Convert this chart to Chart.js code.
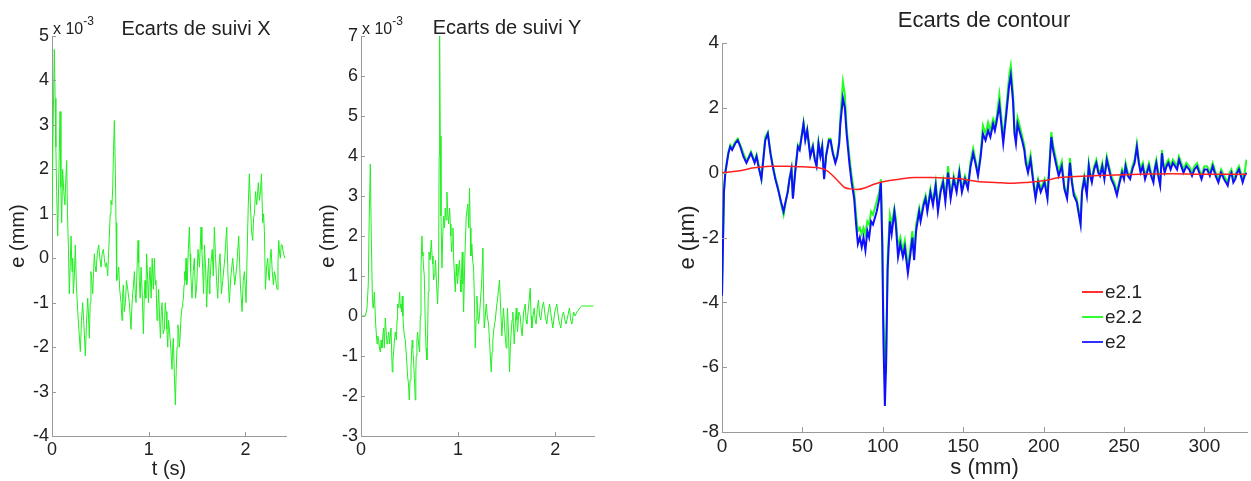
<!DOCTYPE html>
<html>
<head>
<meta charset="utf-8">
<script src="https://cdn.jsdelivr.net/npm/chart.js@4"></script>
<style>
  body { margin: 0; background: #fff; }
  #fig { position: relative; width: 1251px; height: 481px; overflow: hidden; font-family: "Liberation Sans", Arial, sans-serif; color: #222; }
  canvas { position: absolute; top: 0; }
  .lbl { position: absolute; transform: translate(-50%, -50%); white-space: nowrap; }
  .exp { position: absolute; font-size: 16px; white-space: nowrap; }
  .exp sup { font-size: 12px; position: relative; top: -3px; }
  .leg { position: absolute; left: 1082px; font-size: 19px; }
  .leg div { height: 25px; display: flex; align-items: center; }
  .leg span.ln { display: inline-block; width: 21px; height: 0; border-top: 2px solid; margin-right: 2px; }
</style>
</head>
<body>
<div id="fig">
  <canvas id="cX" width="310" height="481" style="left:0px"></canvas>
  <canvas id="cY" width="300" height="481" style="left:310px"></canvas>
  <canvas id="cC" width="591" height="481" style="left:660px"></canvas>

  <div class="lbl" style="left:196px; top:28px; font-size:20px">Ecarts de suivi X</div>
  <div class="lbl" style="left:507px; top:27px; font-size:20px">Ecarts de suivi Y</div>
  <div class="lbl" style="left:984px; top:20px; font-size:22px">Ecarts de contour</div>
  <div class="exp" style="left:53px; top:17px">x 10<sup>-3</sup></div>
  <div class="exp" style="left:362px; top:17px">x 10<sup>-3</sup></div>

  <div class="leg" style="top:279px">
    <div><span class="ln" style="border-color:#ff3030"></span>e2.1</div>
    <div><span class="ln" style="border-color:#30ff30"></span>e2.2</div>
    <div><span class="ln" style="border-color:#3030ff"></span>e2</div>
  </div>
</div>

<script>
// ====== Ecarts de suivi X (t en s, e en 1e-3 mm) ======
const tX = [
  0.000,0.012,0.024,0.032,0.040,0.048,0.059,0.070,0.083,0.092,
  0.100,0.110,0.122,0.134,0.143,0.152,0.160,0.170,0.179,0.188,
  0.197,0.207,0.214,0.221,0.231,0.241,0.252,0.266,0.278,0.293,
  0.305,0.317,0.330,0.345,0.356,0.369,0.378,0.386,0.395,0.403,
  0.412,0.421,0.430,0.438,0.446,0.455,0.468,0.483,0.495,0.507,
  0.519,0.531,0.541,0.552,0.564,0.576,0.585,0.593,0.602,0.610,
  0.620,0.628,0.636,0.645,0.655,0.662,0.669,0.680,0.690,0.700,
  0.714,0.724,0.731,0.738,0.748,0.759,0.770,0.783,0.800,0.817,
  0.826,0.834,0.843,0.852,0.861,0.869,0.880,0.890,0.897,0.903,
  0.912,0.921,0.933,0.945,0.954,0.962,0.970,0.979,0.988,0.997,
  1.005,1.014,1.025,1.036,1.048,1.059,1.068,1.076,1.086,1.095,
  1.103,1.112,1.121,1.130,1.138,1.150,1.162,1.171,1.179,1.188,
  1.197,1.205,1.214,1.228,1.241,1.248,1.255,1.265,1.276,1.285,
  1.293,1.302,1.310,1.317,1.324,1.335,1.345,1.352,1.359,1.366,
  1.372,1.379,1.386,1.393,1.400,1.410,1.421,1.428,1.434,1.441,
  1.448,1.460,1.472,1.485,1.497,1.510,1.525,1.541,1.550,1.559,
  1.568,1.576,1.588,1.600,1.610,1.621,1.628,1.634,1.645,1.657,
  1.668,1.679,1.690,1.702,1.714,1.726,1.738,1.752,1.766,1.787,
  1.807,1.820,1.834,1.850,1.869,1.890,1.910,1.931,1.948,1.966,
  1.978,1.990,2.007,2.020,2.030,2.041,2.052,2.064,2.076,2.085,
  2.093,2.105,2.117,2.134,2.145,2.156,2.166,2.179,2.188,2.197,
  2.207,2.219,2.231,2.240,2.248,2.257,2.266,2.278,2.290,2.300,
  2.310,2.320,2.328,2.337,2.345,2.354,2.362,2.370,2.379,2.395,
  2.410
];
const eX = [
  1.0,3.0,4.7,3.6,2.5,1.5,0.5,1.8,3.3,1.6,
  0.8,2.0,1.5,1.2,1.8,2.2,1.0,0.2,-0.8,-0.2,
  0.5,-0.3,0.0,-0.8,-0.4,0.3,-0.6,-1.2,-1.6,-2.1,
  -1.4,-1.0,-1.5,-2.2,-1.5,-0.9,-1.3,-1.8,-1.0,-0.3,
  -0.5,-0.8,-0.3,0.1,-0.2,-0.3,0.1,0.3,0.0,-0.2,
  0.1,0.2,0.0,-0.2,-0.1,-0.4,0.1,0.5,1.0,1.3,
  1.2,1.6,2.4,3.1,2.0,0.8,-0.5,-0.4,-0.2,-0.7,
  -1.0,-1.4,-0.8,-0.6,-1.2,-1.0,-0.5,-0.7,-1.0,-1.6,
  -1.1,-0.8,-0.6,-0.3,-0.8,-1.0,-0.2,0.4,-0.1,-0.5,
  -0.9,-0.2,-0.8,-1.7,-0.9,-0.5,-0.9,0.1,-0.4,-1.0,
  -0.5,-0.2,-0.9,0.0,-0.7,0.0,-0.6,-0.5,-1.4,-1.1,
  -0.7,-1.3,-1.8,-1.2,-1.0,-1.7,-1.6,-1.0,-1.2,-1.6,
  -2.0,-1.4,-1.6,-2.0,-2.5,-2.0,-1.8,-2.6,-3.3,-2.5,
  -2.0,-1.5,-1.6,-2.0,-1.8,-1.3,-1.1,-1.0,-0.9,-0.6,
  -0.3,-0.5,0.0,-0.6,-0.5,0.2,0.7,0.1,-0.3,-0.6,
  -0.9,-0.3,0.0,-0.9,-0.6,0.2,-0.2,0.7,0.2,-0.3,
  -0.8,0.3,-0.2,-1.1,-0.4,0.0,-0.8,-0.5,-0.1,0.2,
  -0.4,0.7,0.1,-0.5,-0.9,-0.2,0.1,-0.8,-0.5,0.0,
  0.7,-0.4,-1.0,-0.4,0.0,-0.6,-0.2,0.5,-0.6,-1.2,
  -0.5,-0.3,-1.0,0.3,1.2,1.9,1.2,0.6,0.4,0.9,
  1.0,1.5,1.2,1.7,1.3,1.5,1.9,0.8,1.0,0.6,
  -0.7,-0.2,0.0,-0.4,-0.5,0.0,0.2,-0.3,-0.6,-0.3,
  -0.4,-0.6,-0.7,-0.1,0.4,0.1,0.0,0.3,0.3,0.1,
  0.0
];

// ====== Ecarts de suivi Y ======
const tY = [
  0.000,0.045,0.062,0.075,0.085,0.096,0.106,0.117,0.124,0.130,
  0.137,0.151,0.165,0.173,0.182,0.190,0.199,0.207,0.216,0.225,
  0.233,0.240,0.250,0.259,0.268,0.276,0.285,0.295,0.309,0.316,
  0.322,0.329,0.336,0.345,0.353,0.364,0.371,0.377,0.388,0.398,
  0.405,0.412,0.418,0.425,0.432,0.439,0.447,0.456,0.468,0.480,
  0.489,0.497,0.506,0.515,0.521,0.528,0.533,0.539,0.549,0.559,
  0.565,0.569,0.576,0.583,0.593,0.604,0.611,0.618,0.628,0.633,
  0.638,0.645,0.652,0.662,0.670,0.679,0.686,0.693,0.700,0.712,
  0.724,0.732,0.741,0.748,0.755,0.762,0.768,0.778,0.789,0.799,
  0.805,0.810,0.816,0.824,0.834,0.842,0.851,0.860,0.868,0.876,
  0.885,0.893,0.902,0.913,0.920,0.926,0.933,0.940,0.947,0.955,
  0.963,0.971,0.981,0.988,0.995,1.005,1.015,1.022,1.029,1.036,
  1.043,1.050,1.057,1.070,1.084,1.100,1.110,1.118,1.125,1.132,
  1.142,1.150,1.160,1.168,1.177,1.185,1.194,1.202,1.211,1.220,
  1.228,1.242,1.256,1.262,1.269,1.280,1.290,1.300,1.314,1.328,
  1.341,1.350,1.358,1.370,1.383,1.395,1.410,1.427,1.440,1.451,
  1.460,1.468,1.482,1.496,1.503,1.509,1.520,1.530,1.538,1.547,
  1.556,1.564,1.571,1.578,1.589,1.599,1.606,1.612,1.626,1.640,
  1.650,1.660,1.675,1.691,1.700,1.708,1.725,1.743,1.752,1.760,
  1.772,1.784,1.794,1.804,1.816,1.828,1.840,1.852,1.866,1.880,
  1.897,1.914,1.928,1.942,1.959,1.976,1.996,2.017,2.037,2.058,
  2.072,2.086,2.100,2.113,2.130,2.147,2.160,2.172,2.190,2.206,
  2.223,2.240,2.260,2.274,2.395
];
const eY = [
  0.0,0.0,0.2,0.8,2.5,3.8,2.0,0.5,0.2,0.3,
  0.6,-0.2,-0.7,-0.5,-0.6,-0.8,-0.9,-0.6,-0.8,-0.5,
  -0.3,-0.8,-0.05,-0.4,-0.7,-0.6,-0.4,-0.7,-0.3,-0.9,
  -1.4,-1.1,-0.9,-0.6,-0.4,-0.6,-0.1,0.3,0.2,0.6,
  0.2,0.3,0.1,0.5,0.0,-0.3,-0.5,-0.6,-1.0,-1.5,
  -1.7,-2.1,-1.6,-1.3,-0.9,-0.6,-0.8,-1.0,-1.5,-2.1,
  -1.4,-1.0,-0.6,-0.4,-0.7,-0.9,0.0,1.2,2.0,1.6,
  1.5,1.2,1.0,-0.2,-0.8,-1.1,-0.5,0.6,1.6,1.4,
  1.9,1.5,1.3,0.9,1.0,1.2,1.4,0.8,0.3,1.0,
  4.0,7.0,4.5,2.5,1.2,2.0,2.5,2.2,2.7,2.4,
  3.1,2.6,2.3,2.7,2.3,2.0,1.6,1.8,2.2,1.4,
  1.0,0.6,1.3,1.0,0.8,1.2,1.4,0.9,0.6,1.1,
  1.6,0.8,0.1,1.5,2.5,2.8,2.2,3.2,2.2,1.5,
  1.8,1.4,1.2,0.4,-0.8,-0.1,0.5,0.1,-0.2,0.0,
  0.3,0.8,1.7,0.6,-0.3,0.0,0.3,0.0,-0.2,-0.8,
  -1.4,-0.9,-0.6,-0.3,-0.1,0.2,0.5,0.9,0.1,-0.5,
  -0.1,0.2,-0.4,-0.8,-0.2,0.2,-0.5,-1.4,-0.8,-0.4,
  -0.1,0.1,-0.3,-0.7,-0.2,0.2,-0.1,-0.4,0.1,0.0,
  -0.3,-0.5,0.1,0.3,-0.1,-0.2,0.2,0.7,0.0,-0.3,
  0.0,0.2,-0.1,-0.2,0.2,0.4,0.0,-0.1,0.2,0.35,
  0.0,-0.2,0.1,0.3,0.0,-0.3,0.1,0.3,-0.1,-0.3,
  0.0,0.1,-0.1,-0.2,0.0,0.2,-0.1,-0.2,0.1,0.0,
  0.1,0.15,0.22,0.25,0.25
];

// ====== Ecarts de contour (s en mm, e en µm) ======
const sC = [
  0,1.2,2.1,4.0,5.1,6.3,8.2,9.8,11.4,13.3,
  15.2,18.0,20.3,21.5,23.1,24.5,26.9,28.5,30.1,31.5,
  33.2,34.8,36.7,38.3,39.5,40.9,42.0,43.2,44.1,45.5,
  47.2,48.3,50.7,51.8,53.0,54.9,56.5,57.7,58.8,60.0,
  61.2,62.3,63.5,64.7,66.5,67.5,68.9,70.5,71.7,72.9,
  73.6,75.2,76.4,77.5,79.2,80.6,82.2,83.4,84.5,85.7,
  86.9,88.0,89.2,90.4,91.5,92.7,93.9,96.2,97.8,98.8,
  99.7,100.4,101.3,102.0,103.0,104.4,105.5,107.2,108.1,109.5,
  110.9,112.5,113.7,115.6,117.2,118.4,119.5,120.7,122.6,123.5,
  125.4,126.6,127.7,129.6,131.2,132.9,134.3,135.9,137.5,138.9,
  140.6,142.2,144.1,145.9,147.6,149.2,151.1,152.9,154.6,156.2,
  157.6,159.2,160.9,162.3,163.9,165.5,166.9,168.6,169.7,170.9,
  172.5,174.9,176.8,178.6,179.6,181.0,181.9,182.8,183.8,184.9,
  186.6,188.0,188.9,190.3,191.9,193.6,195.0,196.6,198.2,200.6,
  202.4,204.8,205.9,207.6,209.4,211.3,212.9,214.6,216.4,217.6,
  218.8,220.6,223.0,223.9,225.3,226.9,
  228.1,229.0,230.0,231.4,232.8,234.0,235.1,236.5,237.8,239.3,
  240.7,242.1,243.9,245.6,247.3,248.8,250.0,251.0,252.4,253.8,
  255.2,256.6,258.0,259.2,260.3,261.7,263.1,264.3,265.5,266.9,
  268.3,269.2,270.1,271.3,272.5,273.6,274.5,275.3,276.5,277.6,
  279.0,280.4,281.8,283.0,284.2,285.6,287.0,288.8,290.5,292.3,
  293.8,295.4,296.8,298.2,300.0,301.7,303.4,305.2,307.0,308.7,
  310.4,312.2,313.4,314.5,315.7,316.8,318.0,319.2,320.4,321.5,
  322.7,323.8,325.0,326.2
];
const e2 = [
  -3.8,-0.6,0.0,0.6,0.8,0.7,0.9,1.0,0.8,0.5,
  0.3,0.6,0.3,0.5,0.1,-0.2,1.0,1.2,0.6,0.2,
  -0.2,-0.5,-0.9,-1.2,-0.9,-0.6,-0.2,0.1,-0.8,0.0,
  0.8,0.7,1.5,1.0,1.3,0.5,0.8,0.4,0.2,0.9,
  0.5,0.8,-0.2,0.5,1.0,1.0,0.6,0.3,0.5,0.9,
  1.5,2.3,2.0,1.2,0.3,-0.3,-0.8,-1.6,-2.2,-2.0,
  -2.3,-2.0,-2.4,-1.8,-2.0,-1.5,-1.6,-1.2,-0.8,-0.3,
  -2.3,-5.2,-7.2,-6.0,-3.0,-1.5,-1.9,-1.2,-1.6,-2.6,
  -2.2,-2.6,-2.3,-3.1,-2.5,-2.0,-2.7,-1.8,-1.2,-1.5,
  -1.0,-0.8,-1.2,-0.6,-1.0,-0.4,-1.2,-0.6,-0.3,-0.9,
  0.0,-0.8,-0.2,-0.6,0.0,-0.6,-0.2,-0.5,0.2,0.6,
  0.3,-0.1,0.5,1.2,1.0,1.3,1.1,1.5,1.3,1.6,
  2.1,0.9,1.8,2.7,3.0,2.2,1.2,0.9,1.5,1.3,
  1.0,0.7,0.3,0.0,0.4,-0.3,-0.8,-0.3,-0.6,-0.3,
  -0.8,1.1,0.7,0.3,-0.1,0.2,-0.5,-0.8,0.3,-0.3,
  -0.7,-0.9,-1.6,-0.6,-0.2,-0.7,
  0.2,-0.1,-0.3,0.1,0.3,0.0,-0.1,0.2,-0.2,0.4,
  0.1,-0.2,-0.4,-0.7,-0.3,0.0,-0.2,0.2,-0.1,-0.2,
  0.1,0.3,0.8,0.3,0.0,0.2,-0.2,0.0,0.2,-0.1,
  -0.3,0.1,0.3,-0.1,-0.4,0.6,0.2,0.0,0.2,0.3,
  0.1,0.3,0.2,0.1,0.4,0.2,0.0,0.2,0.1,-0.1,
  0.1,0.2,0.0,-0.2,0.1,0.1,-0.1,0.2,-0.1,-0.3,
  0.0,-0.2,-0.3,-0.4,-0.1,0.0,-0.3,-0.2,0.0,0.1,
  -0.1,-0.3,-0.1,0.0
];
const e22 = [
  -3.8,-0.55,0.05,0.65,0.85,0.75,0.95,1.05,0.85,0.6,
  0.35,0.65,0.35,0.55,0.15,-0.2,1.1,1.25,0.65,0.25,
  -0.15,-0.45,-0.95,-1.3,-0.95,-0.55,-0.15,0.15,-0.75,0.05,
  0.85,0.75,1.55,1.05,1.35,0.55,0.85,0.45,0.25,0.95,
  0.55,0.85,-0.15,0.55,1.05,1.05,0.65,0.35,0.55,1.0,
  1.7,2.8,2.4,1.4,0.5,-0.1,-0.6,-1.3,-1.8,-1.7,
  -1.9,-1.7,-1.9,-1.5,-1.6,-1.2,-1.3,-0.9,-0.6,-0.2,
  -2.0,-4.6,-5.6,-6.2,-2.6,-1.3,-1.6,-1.1,-1.4,-2.3,
  -2.0,-2.4,-2.1,-2.9,-2.3,-1.8,-2.5,-1.6,-1.1,-1.4,
  -0.9,-0.7,-1.1,-0.5,-0.9,-0.3,-1.1,-0.5,-0.2,-0.8,
  0.2,-0.7,-0.1,-0.5,0.1,-0.5,-0.1,-0.4,0.35,0.75,
  0.4,0.0,0.65,1.45,1.2,1.55,1.3,1.65,1.45,1.75,
  2.4,1.05,2.0,3.0,3.3,2.45,1.4,1.1,1.7,1.5,
  1.15,0.85,0.45,0.15,0.55,-0.2,-0.7,-0.2,-0.5,-0.2,
  -0.7,1.25,0.85,0.45,0.05,0.35,-0.4,-0.7,0.45,-0.2,
  -0.6,-0.8,-1.5,-0.5,-0.1,-0.6,
  0.3,0.0,-0.2,0.2,0.4,0.1,0.0,0.3,-0.1,0.5,
  0.2,-0.1,-0.3,-0.6,-0.2,0.1,-0.1,0.3,0.0,-0.1,
  0.2,0.4,0.9,0.4,0.1,0.3,-0.1,0.1,0.3,0.0,
  -0.2,0.2,0.4,0.0,-0.3,0.7,0.3,0.1,0.3,0.4,
  0.2,0.4,0.3,0.2,0.5,0.3,0.1,0.3,0.2,0.0,
  0.2,0.3,0.1,-0.1,0.2,0.2,0.0,0.3,0.0,-0.2,
  0.1,-0.1,-0.2,-0.3,0.0,0.1,-0.2,-0.1,0.1,0.2,
  0.0,-0.2,0.0,0.4
];
const sRed = [0,10,20,30,40,50,60,64,68,72,76,80,84,90,95,100,110,120,130,140,150,160,170,180,190,200,210,220,240,260,280,300,326.2];
const e21  = [0.0,0.05,0.15,0.2,0.2,0.18,0.15,0.1,-0.05,-0.25,-0.45,-0.5,-0.52,-0.45,-0.35,-0.28,-0.2,-0.15,-0.15,-0.17,-0.2,-0.28,-0.3,-0.33,-0.3,-0.25,-0.15,-0.12,-0.08,-0.05,-0.03,-0.05,-0.05];

// ====== Graduations ======
const ticksTX = [0, 1, 2];
const ticksEX = [-4, -3, -2, -1, 0, 1, 2, 3, 4, 5];
const ticksEY = [-3, -2, -1, 0, 1, 2, 3, 4, 5, 6, 7];
const ticksS  = [0, 50, 100, 150, 200, 250, 300];
const ticksEC = [-8, -6, -4, -2, 0, 2, 4];

const axisColor = "#9a9a9a";
const textColor = "#222";
const FONT = "'Liberation Sans', Arial, sans-serif";

function pts(xs, ys) {
    return xs.map((x, i) => ({ x: x, y: ys[i] }));
}

// petites graduations vers l'intérieur (style matlab)
const inwardTicks = {
    id: "inwardTicks",
    afterDraw(chart, args, opts) {
        const { ctx, chartArea: a, scales: { x, y } } = chart;
        const len = opts.len || 5;
        ctx.save();
        ctx.strokeStyle = axisColor;
        ctx.lineWidth = 1;
        ctx.beginPath();
        x.ticks.forEach(t => {
            const px = Math.round(x.getPixelForValue(t.value)) + 0.5;
            ctx.moveTo(px, a.bottom); ctx.lineTo(px, a.bottom - len);
        });
        y.ticks.forEach(t => {
            const py = Math.round(y.getPixelForValue(t.value)) + 0.5;
            ctx.moveTo(a.left, py); ctx.lineTo(a.left + len, py);
        });
        ctx.stroke();
        ctx.restore();
    }
};

function makeChart(id, cfg) {
    return new Chart(document.getElementById(id), {
        type: "line",
        data: { datasets: cfg.datasets },
        plugins: [inwardTicks],
        options: {
            responsive: false,
            animation: false,
            devicePixelRatio: 1,
            layout: { padding: cfg.padding },
            elements: { point: { radius: 0 } },
            plugins: { legend: { display: false }, tooltip: { enabled: false }, inwardTicks: { len: cfg.tickLen } },
            scales: {
                x: {
                    type: "linear",
                    min: cfg.xMin, max: cfg.xMax,
                    afterBuildTicks: s => { s.ticks = cfg.xTicks.map(v => ({ value: v })); },
                    afterFit: s => { s.height = cfg.xH; },
                    grid: { display: false, drawTicks: false },
                    border: { display: true, color: axisColor, width: 1 },
                    ticks: { color: textColor, padding: 3, maxRotation: 0, font: { family: FONT, size: cfg.tickSize } },
                    title: { display: !!cfg.xTitle, text: cfg.xTitle, color: textColor, padding: 0, font: { family: FONT, size: cfg.titleSize } }
                },
                y: {
                    type: "linear",
                    min: cfg.yMin, max: cfg.yMax,
                    afterBuildTicks: s => { s.ticks = cfg.yTicks.map(v => ({ value: v })); },
                    afterFit: s => { s.width = cfg.yW; },
                    grid: { display: false, drawTicks: false },
                    border: { display: true, color: axisColor, width: 1 },
                    ticks: { color: textColor, padding: 3, font: { family: FONT, size: cfg.tickSize } },
                    title: { display: true, text: cfg.yTitle, color: textColor, padding: { top: cfg.yTitlePad, bottom: 0 }, font: { family: FONT, size: cfg.titleSize } }
                }
            }
        }
    });
}

// ====== Graphique X ======
makeChart("cX", {
    datasets: [{ data: pts(tX, eX), borderColor: "#22ee22", borderWidth: 1 }],
    padding: { left: 0, top: 36, right: 24, bottom: 0 },
    xMin: 0, xMax: 2.42, xTicks: ticksTX, xH: 45, xTitle: "t (s)",
    yMin: -4, yMax: 5, yTicks: ticksEX, yW: 52, yTitle: "e (mm)", yTitlePad: 6,
    tickSize: 18, titleSize: 20, tickLen: 4
});

// ====== Graphique Y ======
makeChart("cY", {
    datasets: [{ data: pts(tY, eY), borderColor: "#22ee22", borderWidth: 1 }],
    padding: { left: 0, top: 36, right: 16, bottom: 0 },
    xMin: 0, xMax: 2.40, xTicks: ticksTX, xH: 45, xTitle: "",
    yMin: -3, yMax: 7, yTicks: ticksEY, yW: 51, yTitle: "e (mm)", yTitlePad: 6,
    tickSize: 18, titleSize: 20, tickLen: 4
});

// ====== Graphique contour ======
makeChart("cC", {
    datasets: [
        { label: "e2.1", data: pts(sRed, e21), borderColor: "#ff2020", borderWidth: 1.5, cubicInterpolationMode: "monotone", order: 0 },
        { label: "e2.2", data: pts(sC, e22), borderColor: "#20ff20", borderWidth: 2, order: 2 },
        { label: "e2", data: pts(sC, e2), borderColor: "#1010ff", borderWidth: 2, order: 1 }
    ],
    padding: { left: 0, top: 43, right: 4, bottom: 0 },
    xMin: 0, xMax: 326.5, xTicks: ticksS, xH: 49, xTitle: "s (mm)",
    yMin: -8, yMax: 4, yTicks: ticksEC, yW: 62, yTitle: "e (µm)", yTitlePad: 15,
    tickSize: 19, titleSize: 22, tickLen: 5
});
</script>
</body>
</html>
